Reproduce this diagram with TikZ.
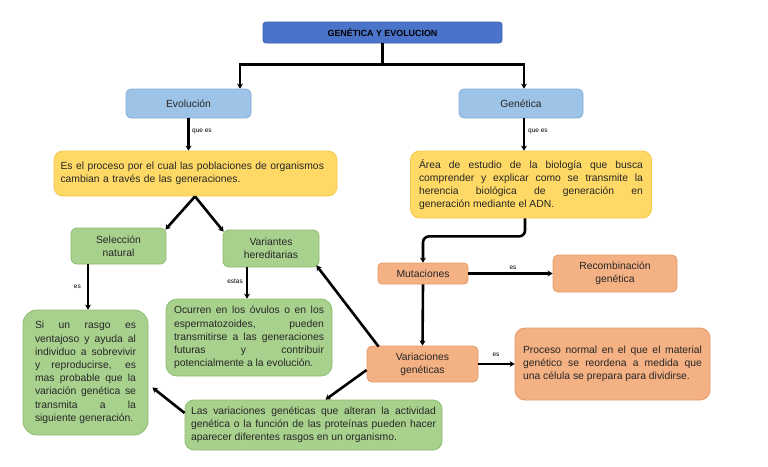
\documentclass[tikz,border=0pt]{standalone}
\usepackage{fontspec}
\setmainfont{Liberation Sans}
\usetikzlibrary{arrows.meta,calc}
\hyphenpenalty=10000
\exhyphenpenalty=10000
\definecolor{titlefill}{HTML}{4A74C9}
\definecolor{titledraw}{HTML}{3B62AE}
\definecolor{bluefill}{HTML}{9DC3E6}
\definecolor{bluedraw}{HTML}{86AEDB}
\definecolor{yelfill}{HTML}{FFD966}
\definecolor{yeldraw}{HTML}{F4C94A}
\definecolor{grnfill}{HTML}{A9D18E}
\definecolor{grndraw}{HTML}{8DBD6E}
\definecolor{orgfill}{HTML}{F4B183}
\definecolor{orgdraw}{HTML}{E59B66}
\definecolor{txt}{HTML}{262626}
\tikzset{
  base/.style={draw, line width=0.8pt, inner sep=0pt, text=txt,
    font=\fontsize{10.35}{13.2}\selectfont,
    execute at begin node={\hyphenpenalty=10000\exhyphenpenalty=10000\emergencystretch=20pt}},
  titlebox/.style={base, fill=titlefill, draw=titledraw, rounded corners=3pt,
    font=\fontsize{8.9}{10}\selectfont\bfseries, text=black},
  bluebox/.style={base, fill=bluefill, draw=bluedraw, rounded corners=5pt},
  yelbox/.style={base, fill=yelfill, draw=yeldraw, rounded corners=9pt},
  grnbox/.style={base, fill=grnfill, draw=grndraw, rounded corners=#1},
  grnbox/.default=6pt,
  orgbox/.style={base, fill=orgfill, draw=orgdraw, rounded corners=#1},
  orgbox/.default=5pt,
  conn/.style={line width=2.6pt, black},
  arr/.style={conn, -{Stealth[length=5pt,width=6pt]}},
  lbl/.style={font=\fontsize{6.5}{7}\selectfont, inner sep=0pt, text=black},
}
\begin{document}
\begin{tikzpicture}[x=1pt,y=-1pt]
\useasboundingbox (0,0) rectangle (768,466);
\fill[white] (0,0) rectangle (768,466);

% nodes
\node[titlebox, minimum width=239, minimum height=21] (title) at (382.5,32.5) {GENÉTICA Y EVOLUCION};
\node[bluebox, minimum width=125, minimum height=29] (evo) at (188.5,103.5) {Evolución};
\node[bluebox, minimum width=124, minimum height=29] (gen) at (521,103.5) {Genética};

\node[yelbox, minimum width=283, minimum height=45, text width=270, align=left] (y1) at (195.5,173.5)
  {Es el proceso por el cual las poblaciones de organismos\\cambian a través de las generaciones.};
\node[yelbox, minimum width=241, minimum height=67, text width=224, align=justify] (y2) at (531,184.5)
  {Área de estudio de la biología que busca\linebreak comprender y explicar como se transmite la\linebreak herencia biológica de generación en\linebreak generación mediante el ADN.};

\node[grnbox, minimum width=95, minimum height=36, align=center] (sel) at (118.5,246) {Selección\\natural};
\node[grnbox, minimum width=96, minimum height=37, align=center] (vh) at (271,248.5) {Variantes\\hereditarias};

\node[grnbox=14pt, minimum width=125, minimum height=125, text width=101, align=justify] (si) at (85.5,372.5)
  {Si un rasgo es\linebreak ventajoso y ayuda al\linebreak individuo a sobrevivir\linebreak y reproducirse, es\linebreak mas probable que la\linebreak variación genética se\linebreak transmita a la\linebreak siguiente generación.};
\node[grnbox=11pt, minimum width=166, minimum height=77, text width=150, align=justify] (oc) at (249,337.5)
  {Ocurren en los óvulos o en los\linebreak espermatozoides, pueden\linebreak transmitirse a las generaciones\linebreak futuras y contribuir\linebreak potencialmente a la evolución.};
\node[grnbox=9pt, minimum width=257, minimum height=50, text width=245, align=justify] (lv) at (313.5,425)
  {Las variaciones genéticas que alteran la actividad\linebreak genética o la función de las proteínas pueden hacer\linebreak aparecer diferentes rasgos en un organismo.};

\node[orgbox=4pt, minimum width=90, minimum height=21] (mut) at (423,273.5) {Mutaciones};
\node[orgbox, minimum width=124, minimum height=37, align=center] (rec) at (615,273.5) {Recombinación\\genética};
\node[orgbox, minimum width=111, minimum height=36, align=center] (var) at (422.5,364) {Variaciones\\genéticas};
\node[orgbox=10pt, minimum width=195, minimum height=72, text width=179, align=justify] (proc) at (612.5,364)
  {Proceso normal en el que el material\linebreak genético se reordena a medida que\linebreak una célula se prepara para dividirse.};

% connectors
\draw[conn] (title.south) -- ++(0,21) coordinate (hj);
\draw[arr] (hj) -| ([xshift=51.5pt]evo.north);
\draw[arr] (hj) -| ([xshift=3pt]gen.north);

\draw[arr] (evo.south) -- (evo.south |- y1.north);
\node[lbl, anchor=west] (l1) at (192,131) {que es};
\draw[arr] ([xshift=3pt]gen.south) -- ([xshift=3pt]gen.south |- y2.north);
\node[lbl, anchor=west] (l2) at (528,131) {que es};

\draw[arr] ([xshift=-0.5pt]y1.south) -- ([xshift=-1pt,yshift=-2pt]sel.north east);
\draw[arr] ([xshift=-0.5pt]y1.south) -- ([xshift=1pt,yshift=-2pt]vh.north west);

\draw[arr] ([xshift=-30.5pt]sel.south) -- ([xshift=-30.5pt]sel.south |- si.north);
\node[lbl, anchor=east] (l3) at (81,287) {es};
\draw[arr] ([xshift=-24pt]vh.south) -- ([xshift=-24pt]vh.south |- oc.north);
\node[lbl, anchor=east] (l4) at (243,281) {estas};

\draw[arr, rounded corners=6pt] ([xshift=-6pt]y2.south) -- ++(0,18) -| (mut.north);
\draw[arr] (mut.east) -- (rec.west);
\node[lbl] (l5) at (513,268) {es};
\draw[arr] (mut.south) -- (var.north);
\draw[arr] (var.east) -- (var.east -| proc.west);
\node[lbl] (l6) at (496,355) {es};

\draw[arr] ([xshift=12pt,yshift=-1pt]var.north west) -- ([xshift=-3pt,yshift=2pt]vh.south east);
\draw[arr] ([yshift=-6pt]var.west) -- ([xshift=12pt]lv.north);
\draw[arr] ([yshift=12pt]lv.west) -- ([xshift=4pt,yshift=-15pt]si.east);
\end{tikzpicture}
\end{document}
